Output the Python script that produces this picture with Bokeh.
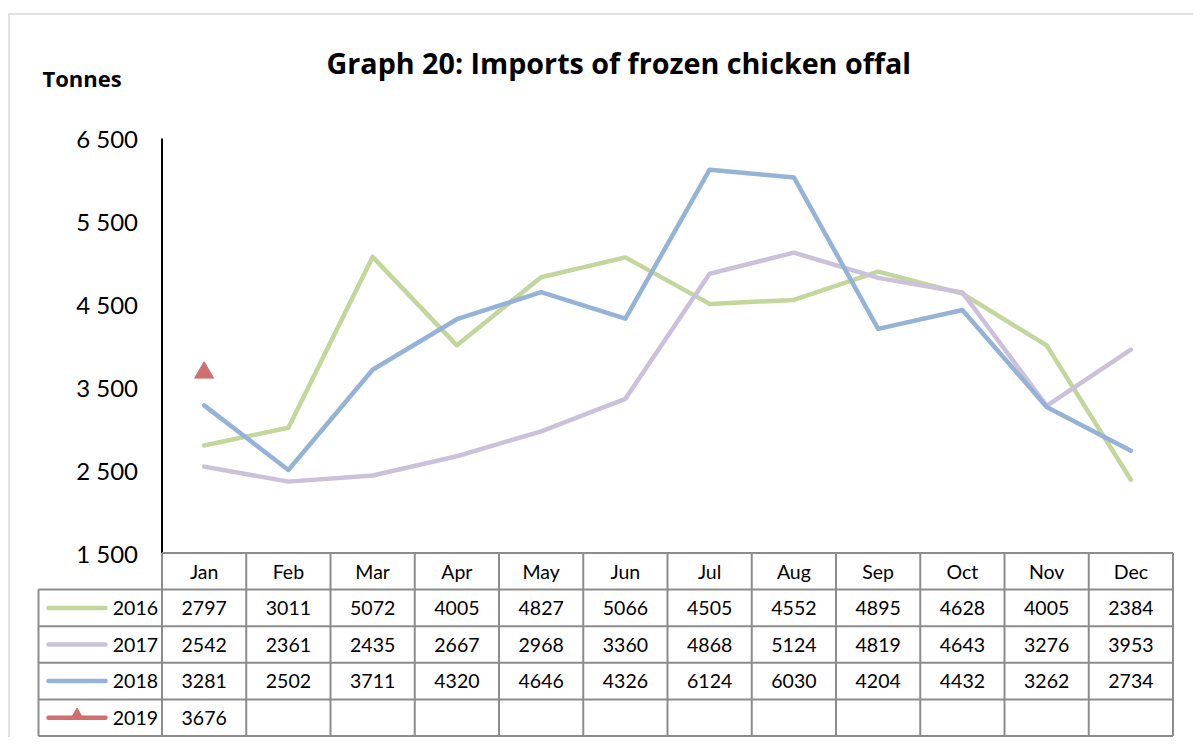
from bokeh.plotting import figure
from bokeh.models import Range1d
from bokeh.embed import file_html
from bokeh.resources import INLINE
from bokeh.core.properties import value

# ---------------- data ----------------
months = ["Jan", "Feb", "Mar", "Apr", "May", "Jun",
          "Jul", "Aug", "Sep", "Oct", "Nov", "Dec"]
years = ["2016", "2017", "2018", "2019"]
v2016 = [2797, 3011, 5072, 4005, 4827, 5066, 4505, 4552, 4895, 4628, 4005, 2384]
v2017 = [2542, 2361, 2435, 2667, 2968, 3360, 4868, 5124, 4819, 4643, 3276, 3953]
v2018 = [3281, 2502, 3711, 4320, 4646, 4326, 6124, 6030, 4204, 4432, 3262, 2734]
v2019 = [3676]
y_ticks = [1500, 2500, 3500, 4500, 5500, 6500]
y_tick_labels = ["1 500", "2 500", "3 500", "4 500", "5 500", "6 500"]
title_text = "Graph 20: Imports of frozen chicken offal"
unit_text = "Tonnes"

series = [v2016, v2017, v2018, v2019]
colors = ["#c3d69b", "#ccc1da", "#95b3d7", "#d0706e"]

# ---------------- layout constants (canvas pixels) ----------------
W, H = 1193, 737
N = len(months)
CELL_W = 1011 / N          # px per month column
X0_PX = 161.5              # canvas x of the left edge of the first month column
LEG_W = 123.5              # px width of the legend column of the table
Y_TOP_PX = 138             # canvas y of the top tick
Y_BOT_PX = 552.5           # canvas y of the bottom tick / table top
RH = 36.6                  # px per table row
FONT = "Lato"
TFONT = "Open Sans"
GRID = "#8c8c8c"

upp = (y_ticks[-1] - y_ticks[0]) / (Y_BOT_PX - Y_TOP_PX)
nrows = len(years) + 1

p = figure(width=W, height=H,
           x_range=Range1d(-X0_PX / CELL_W, (W - X0_PX) / CELL_W),
           y_range=Range1d(y_ticks[0] - (H - Y_BOT_PX) * upp, y_ticks[-1] + Y_TOP_PX * upp),
           x_axis_location=None, y_axis_location=None,
           output_backend="svg", toolbar_location=None, min_border=0)
p.extra_y_ranges = {"table": Range1d((H - Y_BOT_PX) / RH, -Y_BOT_PX / RH),
                    "px": Range1d(H, 0)}
p.extra_x_ranges = {"px": Range1d(0, W)}
p.outline_line_color = None
p.grid.visible = False
p.background_fill_color = "white"
p.border_fill_color = "white"

# outer light frame of the chart area
p.segment(x0=[8.5, 8], y0=[13, 13.5], x1=[8.5, W], y1=[H, 13.5],
          x_range_name="px", y_range_name="px", line_color="#d9d9d9", line_width=1.5)

# titles
p.text(x=[326], y=[62], text=[title_text], x_range_name="px", y_range_name="px",
       text_font=value(TFONT), text_font_style="bold", text_font_size="28.7px",
       text_color="black", text_baseline="alphabetic", text_align="left")
p.text(x=[42], y=[77], text=[unit_text], x_range_name="px", y_range_name="px",
       text_font=value(TFONT), text_font_style="bold", text_font_size="22px",
       text_color="black", text_baseline="alphabetic", text_align="left")

# y axis (value scale)
p.segment(x0=[0], y0=[y_ticks[0]], x1=[0], y1=[y_ticks[-1]], line_color="black", line_width=2)
p.text(x=[0] * len(y_ticks), y=y_ticks, text=y_tick_labels, x_offset=-24,
       text_font=value(FONT), text_font_size="24px", text_color="black",
       text_align="right", text_baseline="middle")

# series
mx = [i + 0.5 for i in range(N)]
for vals, col in zip(series, colors):
    if len(vals) == N:
        p.line(mx, vals, line_color=col, line_width=4.5, line_join="round", line_cap="round")
    else:
        p.scatter(mx[:len(vals)], vals, marker="triangle", size=19,
                  fill_color=col, line_color=col)

# ---------------- data table ----------------
leg_u = LEG_W / CELL_W
hx0, hx1, hy = [], [], []
for r in range(nrows + 1):
    hx0.append(0 if r == 0 else -leg_u)
    hx1.append(N)
    hy.append(r)
p.segment(x0=hx0, y0=hy, x1=hx1, y1=hy, y_range_name="table", line_color=GRID, line_width=2)
vx, vy0, vy1 = [-leg_u], [1], [nrows]
for k in range(N + 1):
    vx.append(k)
    vy0.append(0)
    vy1.append(nrows)
p.segment(x0=vx, y0=vy0, x1=vx, y1=vy1, y_range_name="table", line_color=GRID, line_width=2)

p.text(x=mx, y=[0.5] * N, text=months, y_range_name="table",
       text_align="center", text_baseline="middle",
       text_font=value(FONT), text_font_size="19.5px", text_color="black")

for r, (yr, vals, col) in enumerate(zip(years, series, colors)):
    ry = r + 1.5
    p.text(x=mx[:len(vals)], y=[ry] * len(vals), text=[str(v) for v in vals],
           y_range_name="table", text_align="center", text_baseline="middle",
           text_font=value(FONT), text_font_size="19.5px", text_color="black")
    lx0 = -leg_u + 10 / CELL_W
    lx1 = -leg_u + 67 / CELL_W
    p.segment(x0=[lx0], y0=[ry], x1=[lx1], y1=[ry], y_range_name="table",
              line_color=col, line_width=4.5, line_cap="round")
    if len(vals) < N:
        p.scatter(x=[(lx0 + lx1) / 2], y=[ry - 0.06], y_range_name="table",
                  marker="triangle", size=13, fill_color=col, line_color=col)
    p.text(x=[-4 / CELL_W], y=[ry], text=[yr], y_range_name="table",
           text_align="right", text_baseline="middle",
           text_font=value(FONT), text_font_size="19.5px", text_color="black")

open("out.html", "w").write(file_html(p, INLINE))
